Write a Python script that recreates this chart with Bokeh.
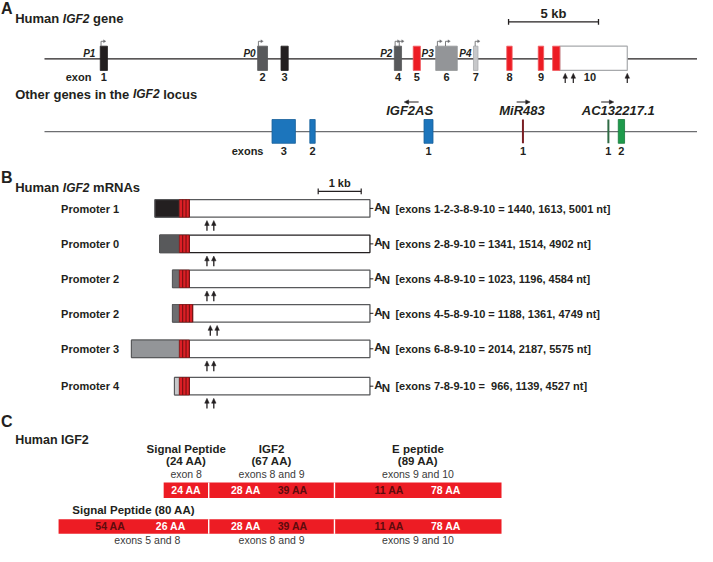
import numpy as np
from bokeh.plotting import figure
from bokeh.models import Range1d
from bokeh.embed import file_html
from bokeh.resources import INLINE
from bokeh.core.properties import value

# ================= DATA =================
# Panel A - human IGF2 gene, positions in kb from the left end of the drawn locus
exon_names = ["1", "2", "3", "4", "5", "6", "7", "8", "9", "10"]
exon_start_kb = [3.1, 11.85, 13.15, 19.45, 20.5, 21.75, 23.85, 25.7, 27.45, 28.25]
exon_end_kb = [3.5, 12.4, 13.55, 19.85, 20.9, 22.95, 24.1, 26.0, 27.75, 28.65]
exon_kind = ["black", "dark", "black", "dark", "red", "mid", "light", "red", "red", "red"]
exon10_utr_end_kb = 32.4
polyA_kb = [28.95, 29.4, 32.4]
promoter_names = ["P1", "P0", "P2", "P3", "P4"]
promoter_exon = [0, 1, 3, 5, 6]
promoter_tss_kb = [[3.1], [11.85], [19.45, 19.68], [21.8, 22.25], [23.9]]
locus_len_kb = 36.3
scale_bar_kb = 5
scale_bar_start_kb = 25.8

# Panel A - other genes in the IGF2 locus
igf2as_exon_names = ["3", "2", "1"]
igf2as_start_kb = [12.65, 14.75, 21.1]
igf2as_end_kb = [13.95, 15.05, 21.6]
mir483_kb = 26.6
ac_exon1_kb = 31.35
ac_exon2_kb = [31.9, 32.25]
other_gene_names = ["IGF2AS", "MiR483", "AC132217.1"]
other_gene_label_kb = [20.3, 26.55, 31.9]
other_gene_strand = [-1, 1, 1]
other_gene_arrow_kb = [[20.0, 20.8], [26.25, 27.0], [30.95, 31.65]]

# Panel B - human IGF2 mRNAs
mrna_promoter = ["Promoter 1", "Promoter 0", "Promoter 2", "Promoter 2", "Promoter 3", "Promoter 4"]
mrna_exons = ["1-2-3-8-9-10", "2-8-9-10", "4-8-9-10", "4-5-8-9-10", "6-8-9-10", "7-8-9-10"]
mrna_len_1 = [1440, 1341, 1023, 1188, 2014, 966]
mrna_len_2 = [1613, 1514, 1196, 1361, 2187, 1139]
mrna_len_3 = [5001, 4902, 4584, 4749, 5575, 4527]
mrna_leader_nt = [568, 455, 160, 160, 1114, 114]   # 5' exon(s) upstream of exon 8
mrna_leader_kind = ["black", "dark", "dark2", "dark2", "mid", "light"]
mrna_red_blocks = [3, 3, 3, 4, 3, 3]
mrna_3p_nt = 4430          # exon 8 start -> 3' end as drawn
polyA_offset_nt = [409, 568]  # after coding block, as drawn
mrna_scale_bar_nt = 1000

# Panel C - human IGF2 protein
domain_names = ["Signal Peptide", "IGF2", "E peptide"]
domain_aa = [24, 67, 89]
domain_exons = ["exon 8", "exons 8 and 9", "exons 9 and 10"]
domain_sub_aa = [[24], [28, 39], [11, 78]]
domain_sub_dark = [[False], [False, True], [True, False]]
domain_sub_frac = [[0.5], [0.295, 0.667], [0.327, 0.667]]
long_signal_aa = 80
long_signal_sub_aa = [54, 26]
long_signal_sub_dark = [True, False]
long_signal_sub_frac = [0.344, 0.747]
long_signal_exons = "exons 5 and 8"

# ================= STYLE / LAYOUT =================
FONT = value("Liberation Sans")
INK = "#231f20"
COL = {"black": "#231f20", "dark": "#58595b", "dark2": "#6d6e71", "mid": "#939598",
       "light": "#c7c8ca", "red": "#ed1c24"}
KB_PX, LOCUS_X0 = 18.4, 45.0
GENE_Y, EX_T, EX_B = 60, 47, 72
GENE2_Y, EX2_T, EX2_B = 135, 122.5, 147
NT_PX, B_X8, BLOCK_PX = 0.044, 183.0, 3.4
ROW_Y = [214, 250.5, 286.5, 322, 358.5, 397]
BOX_H = 18
AA_PX, X_IGF2 = 1.92, 213.0
PW, PH = 697, 546
XR, YR = 713.0, 562.0
SX = PW / XR

# Arial/Liberation bold advance widths (per 1000 em) for width estimates of mixed-style titles
BOLD_W = {" ": 278, "A": 722, "C": 722, "F": 611, "G": 778, "H": 722, "I": 278, "N": 722,
          "O": 778, "R": 722, "S": 667, "a": 556, "c": 556, "e": 556, "g": 611, "h": 611,
          "i": 278, "l": 278, "m": 889, "n": 611, "o": 611, "r": 389, "s": 556, "t": 333,
          "u": 611, "2": 556}

p = figure(width=PW, height=PH, x_range=Range1d(0, XR), y_range=Range1d(YR, 0),
           output_backend="svg", toolbar_location=None, min_border=0)
p.xaxis.visible = False
p.yaxis.visible = False
p.xgrid.visible = False
p.ygrid.visible = False
p.outline_line_color = None


def T(x, y, s, size, style="bold", color=INK, align="left"):
    # y is the baseline of the text in reference pixels; text is placed by its cap centre
    yc = y - 0.365 * size
    p.text(x=[x], y=[yc], text=[s], text_font=FONT, text_font_size=f"{size}px",
           text_font_style=style, text_color=color, text_align=align,
           text_baseline="alphabetic")


def mixed(x, y, pieces, gap_size=13):
    for s, style, size in pieces:
        T(x, y, s, size, style)
        w = sum(BOLD_W.get(ch, 556) for ch in s) / 1000.0 * size
        x += (w + 0.278 * gap_size) / SX


def up_arrows(xs, tip_y, length, color=INK, w=1.3):
    xs = list(xs)
    n = len(xs)
    p.segment(x0=xs, y0=[tip_y + length] * n, x1=xs, y1=[tip_y + 3] * n,
              line_color=color, line_width=w)
    p.patches(xs=[[x - 2.3, x, x + 2.3] for x in xs],
              ys=[[tip_y + 5, tip_y, tip_y + 5] for _ in xs],
              fill_color=color, line_color=color, line_width=0.5)


def h_arrow(x0, x1, y, color=INK, w=1.2):
    d = 1 if x1 > x0 else -1
    p.segment(x0=[x0], y0=[y], x1=[x1 - d * 2], y1=[y], line_color=color, line_width=w)
    p.patches(xs=[[x1, x1 - d * 4.5, x1 - d * 4.5]], ys=[[y, y - 2.2, y + 2.2]],
              fill_color=color, line_color=color, line_width=0.5)


def ax(kb):
    return LOCUS_X0 + KB_PX * np.asarray(kb, dtype=float)


# ================= PANEL A =================
T(0.5, 14.5, "A", 16)
mixed(15, 23, [("Human", "bold", 13), ("IGF2", "bold italic", 12), ("gene", "bold", 13)])

sb0, sb1 = ax(scale_bar_start_kb), ax(scale_bar_start_kb + scale_bar_kb)
p.segment(x0=[sb0, sb0, sb1], y0=[22, 19, 19], x1=[sb1, sb0, sb1], y1=[22, 25, 25],
          line_color=INK, line_width=1.3)
T((sb0 + sb1) / 2, 18.5, f"{scale_bar_kb} kb", 13, align="center")

p.segment(x0=[ax(0)], y0=[GENE_Y], x1=[ax(locus_len_kb)], y1=[GENE_Y], line_color=INK, line_width=1.2)
p.quad(left=[ax(exon_end_kb[9])], right=[ax(exon10_utr_end_kb)], top=[EX_T], bottom=[EX_B],
       fill_color="white", line_color="#a7a9ac", line_width=1.2)
fills = [COL[k] for k in exon_kind]
lines = ["#a7a9ac" if k == "light" else ("#f15a5f" if k == "red" else COL[k]) for k in exon_kind]
p.quad(left=ax(exon_start_kb), right=ax(exon_end_kb), top=[EX_T] * 10, bottom=[EX_B] * 10,
       fill_color=fills, line_color=lines, line_width=0.8)
centers = (ax(exon_start_kb) + ax(exon_end_kb)) / 2
centers[9] = (ax(exon_start_kb[9]) + ax(exon10_utr_end_kb)) / 2
for c, name in zip(centers, exon_names):
    T(c, 83, name, 11, align="center")
T(93, 83, "exon", 11, align="right")
up_arrows(ax(polyA_kb), 75, 10, w=1.2)
for name, ei, tss in zip(promoter_names, promoter_exon, promoter_tss_kb):
    T(ax(exon_start_kb[ei]) - (5 if name == "P1" else 2), 58.5, name, 10, "bold italic", align="right")
    for t in tss:
        x = float(ax(t)) + 0.8
        p.line(x=[x, x, x + 3], y=[EX_T, EX_T - 5, EX_T - 5], line_color="#6d6e71", line_width=0.9)
        p.patches(xs=[[x + 5, x + 2.5, x + 2.5]], ys=[[EX_T - 5, EX_T - 6.6, EX_T - 3.4]],
                  fill_color="#6d6e71", line_color="#6d6e71", line_width=0.3)

mixed(15, 101, [("Other genes in the", "bold", 13), ("IGF2", "bold italic", 12), ("locus", "bold", 13)])
p.segment(x0=[ax(0)], y0=[GENE2_Y], x1=[ax(locus_len_kb)], y1=[GENE2_Y], line_color="#6d6e71", line_width=1.2)
p.quad(left=ax(igf2as_start_kb), right=ax(igf2as_end_kb), top=[EX2_T] * 3, bottom=[EX2_B] * 3,
       fill_color="#1c75bc", line_color="#17609b", line_width=0.8)
p.segment(x0=[ax(mir483_kb)], y0=[EX2_T], x1=[ax(mir483_kb)], y1=[EX2_B], line_color="#7a1f24", line_width=2)
p.segment(x0=[ax(ac_exon1_kb)], y0=[EX2_T], x1=[ax(ac_exon1_kb)], y1=[EX2_B], line_color="#2f6b45", line_width=2)
p.quad(left=[ax(ac_exon2_kb[0])], right=[ax(ac_exon2_kb[1])], top=[EX2_T], bottom=[EX2_B],
       fill_color="#1e9a4b", line_color="#187a3b", line_width=0.8)
for s, e, name in zip(igf2as_start_kb, igf2as_end_kb, igf2as_exon_names):
    T((ax(s) + ax(e)) / 2, 158.5, name, 11, align="center")
T(ax(mir483_kb), 158.5, "1", 11, align="center")
T(ax(ac_exon1_kb), 158.5, "1", 11, align="center")
T((ax(ac_exon2_kb[0]) + ax(ac_exon2_kb[1])) / 2, 158.5, "2", 11, align="center")
T(269, 158.5, "exons", 11, align="right")
for name, lk, strand, (a0, a1) in zip(other_gene_names, other_gene_label_kb, other_gene_strand, other_gene_arrow_kb):
    T(ax(lk), 118, name, 13, "bold italic", align="center")
    if strand > 0:
        h_arrow(ax(a0), ax(a1), 104.5)
    else:
        h_arrow(ax(a1), ax(a0), 104.5)

# ================= PANEL B =================
T(0.5, 188, "B", 16)
mixed(15, 197, [("Human", "bold", 13), ("IGF2", "bold italic", 12), ("mRNAs", "bold", 13)])

bs0 = B_X8 + 3227 * NT_PX
bs1 = bs0 + mrna_scale_bar_nt * NT_PX
p.segment(x0=[bs0, bs0, bs1], y0=[196.5, 193.5, 193.5], x1=[bs1, bs0, bs1], y1=[196.5, 199.5, 199.5],
          line_color=INK, line_width=1.2)
T((bs0 + bs1) / 2, 192, "1 kb", 11, align="center")

x_end = B_X8 + mrna_3p_nt * NT_PX
for i, yc in enumerate(ROW_Y):
    top, bot = yc - BOX_H / 2, yc + BOX_H / 2
    left = B_X8 - mrna_leader_nt[i] * NT_PX
    red_end = B_X8 + mrna_red_blocks[i] * BLOCK_PX
    p.quad(left=[left], right=[x_end], top=[top], bottom=[bot], fill_color="white",
           line_color="#58595b" if i != 1 else "#231f20", line_width=1.3)
    p.quad(left=[left], right=[B_X8], top=[top], bottom=[bot], fill_color=COL[mrna_leader_kind[i]],
           line_color="#58595b", line_width=1.0)
    p.quad(left=[B_X8], right=[red_end], top=[top], bottom=[bot], fill_color="#dc1f26",
           line_color="#8a1a1a", line_width=0.8)
    sx = [B_X8 + k * BLOCK_PX for k in range(1, mrna_red_blocks[i] + 1)]
    p.segment(x0=sx, y0=[top] * len(sx), x1=sx, y1=[bot] * len(sx), line_color="#6b0f10", line_width=1.0)
    up_arrows([red_end + o * NT_PX for o in polyA_offset_nt], bot + 3.5, 10.5, w=1.3)
    T(62, yc + 4.3, mrna_promoter[i], 11)
    p.segment(x0=[x_end], y0=[yc], x1=[x_end + 3.5], y1=[yc], line_color=INK, line_width=1)
    T(x_end + 4.5, yc + 2.6, "A", 11.5)
    T(x_end + 12, yc + 5.6, "N", 11.5)
    l1 = f"{mrna_len_1[i]:4d}".replace(" ", "\u00a0")
    T(404, yc + 4.3, f"[exons {mrna_exons[i]} = {l1}, {mrna_len_2[i]}, {mrna_len_3[i]} nt]", 11)

# ================= PANEL C =================
T(0.5, 439.5, "C", 16)
T(15, 456.5, "Human IGF2", 12.5)

RED = "#ed1c24"
DARK = "#5e0b0d"
TOP_T, TOP_B = 496, 512
BOT_T, BOT_B = 534, 549
starts = [X_IGF2 - domain_aa[0] * AA_PX]
for aa in domain_aa:
    starts.append(starts[-1] + aa * AA_PX)
p.quad(left=[starts[0]], right=[starts[-1]], top=[TOP_T], bottom=[TOP_B], fill_color=RED, line_color=None)
long_start = X_IGF2 - long_signal_aa * AA_PX
p.quad(left=[long_start], right=[starts[-1]], top=[BOT_T], bottom=[BOT_B], fill_color=RED, line_color=None)
divs = starts[1:-1]
p.segment(x0=divs, y0=[TOP_T] * len(divs), x1=divs, y1=[TOP_B] * len(divs), line_color="white", line_width=1.4)
p.segment(x0=divs, y0=[BOT_T] * len(divs), x1=divs, y1=[BOT_B] * len(divs), line_color="white", line_width=1.4)

for k, name in enumerate(domain_names):
    s0, s1 = starts[k], starts[k + 1]
    c = (s0 + s1) / 2
    T(c, 466, name, 11.5, align="center")
    T(c, 478.5, f"({domain_aa[k]} AA)", 11.5, align="center")
    T(c, 491.5, domain_exons[k], 10.5, "normal", "#3a3a3a", align="center")
    for aa, dk, fr in zip(domain_sub_aa[k], domain_sub_dark[k], domain_sub_frac[k]):
        T(s0 + fr * (s1 - s0), 507.5, f"{aa} AA", 10.5, color=DARK if dk else "white", align="center")
    if k > 0:
        for aa, dk, fr in zip(domain_sub_aa[k], domain_sub_dark[k], domain_sub_frac[k]):
            T(s0 + fr * (s1 - s0), 545, f"{aa} AA", 10.5, color=DARK if dk else "white", align="center")
        T(c, 559.5, domain_exons[k], 10.5, "normal", "#3a3a3a", align="center")

for aa, dk, fr in zip(long_signal_sub_aa, long_signal_sub_dark, long_signal_sub_frac):
    T(long_start + fr * (X_IGF2 - long_start), 545, f"{aa} AA", 10.5, color=DARK if dk else "white", align="center")
T((long_start + X_IGF2) / 2, 529, f"Signal Peptide ({long_signal_aa} AA)", 11.5, align="center")
T((long_start + X_IGF2) / 2 + 14, 559.5, long_signal_exons, 10.5, "normal", "#3a3a3a", align="center")

open("out.html", "w").write(file_html(p, INLINE))
